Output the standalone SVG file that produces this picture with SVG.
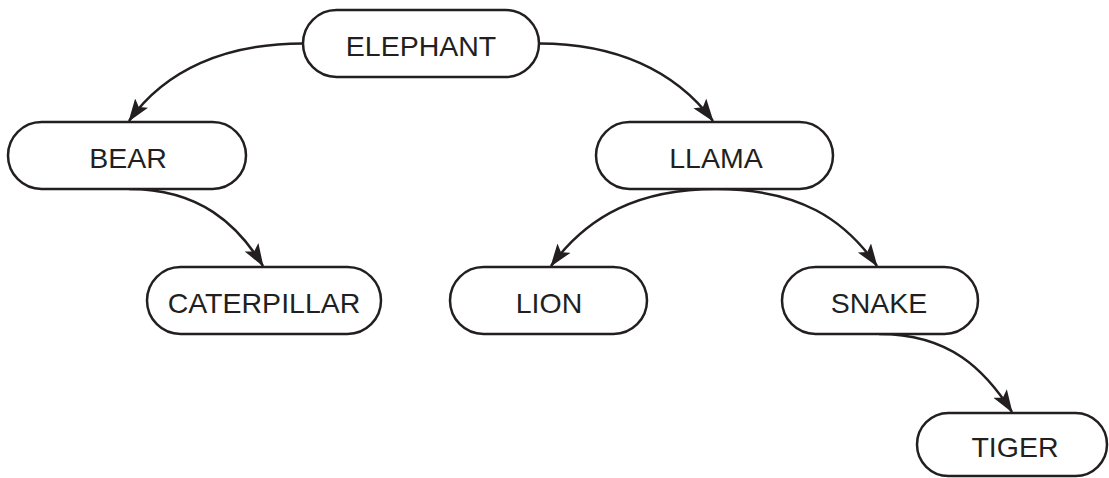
<svg xmlns="http://www.w3.org/2000/svg" width="1109" height="478" viewBox="0 0 1109 478">
<style>
.node rect{fill:#fff;stroke:#231f20;stroke-width:2.5}
.node text{font-family:"Liberation Sans",Arial,sans-serif;font-size:28.5px;fill:#231f20;text-anchor:middle}
.edge{fill:none;stroke:#231f20;stroke-width:2.5}
</style>
<defs>
<marker id="arr" markerUnits="userSpaceOnUse" markerWidth="24" markerHeight="18" refX="22" refY="8" orient="auto" viewBox="0 0 24 18">
<path d="M0,0 L23,8 L0,16 L5,8 z" fill="#231f20"/>
</marker>
</defs>
<g id="connectors">
<path class="edge" marker-end="url(#arr)" d="M303,43.5 C225,43.5 165,70 129,121"/>
<path class="edge" marker-end="url(#arr)" d="M539,43.5 C615,43.5 675,70 713,121"/>
<path class="edge" marker-end="url(#arr)" d="M129,189 C200,189 238,225 263,266"/>
<path class="edge" marker-end="url(#arr)" d="M716,189 C640,189 588,215 551,266"/>
<path class="edge" marker-end="url(#arr)" d="M716,189 C800,189 845,220 877,266"/>
<path class="edge" marker-end="url(#arr)" d="M879,334 C950,334 985,370 1012,412"/>
</g>
<g id="ELEPHANT" class="node"><rect x="303" y="10" width="236" height="67" rx="33.5"/><text x="421" y="56">ELEPHANT</text></g>
<g id="BEAR" class="node"><rect x="8" y="122" width="238" height="67" rx="33.5"/><text x="128" y="168">BEAR</text></g>
<g id="LLAMA" class="node"><rect x="596" y="122" width="237" height="67" rx="33.5"/><text x="716" y="168">LLAMA</text></g>
<g id="CATERPILLAR" class="node"><rect x="147" y="267" width="234" height="67" rx="33.5"/><text x="264" y="313">CATERPILLAR</text></g>
<g id="LION" class="node"><rect x="450" y="267" width="197" height="67" rx="33.5"/><text x="549" y="313">LION</text></g>
<g id="SNAKE" class="node"><rect x="782" y="267" width="196" height="67" rx="33.5"/><text x="879" y="313">SNAKE</text></g>
<g id="TIGER" class="node"><rect x="917" y="413" width="190" height="63" rx="31.5"/><text x="1015" y="457">TIGER</text></g>
</svg>
